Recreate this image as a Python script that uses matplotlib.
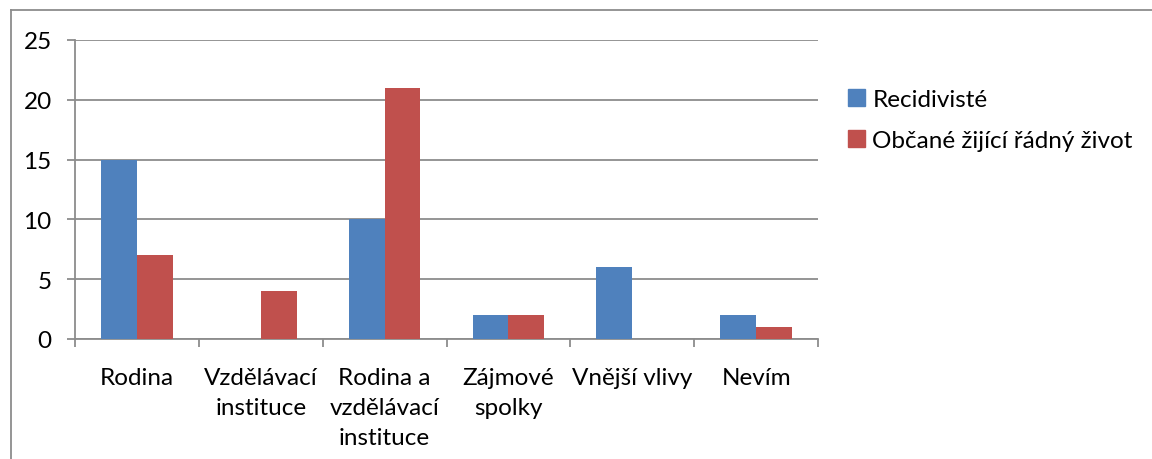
import numpy as np
import matplotlib
matplotlib.use("Agg")
import matplotlib.pyplot as plt
import matplotlib.patches as mpatches
from matplotlib.lines import Line2D

plt.rcParams["font.family"] = ["Lato", "DejaVu Sans"]

categories = ["Rodina", "Vzdělávací\ninstituce", "Rodina a\nvzdělávací\ninstituce",
              "Zájmové\nspolky", "Vnější vlivy", "Nevím"]
recidiviste = [15, 0, 10, 2, 6, 2]
obcane = [7, 4, 21, 2, 0, 1]
series_names = ["Recidivisté", "Občané žijící řádný život"]
yticks = [0, 5, 10, 15, 20, 25]

BLUE = "#4F81BD"
RED = "#C0504D"
GRID = "#8C8C8C"
FS = 17.5
W, H = 1152, 460

fig = plt.figure(figsize=(W / 100, H / 100), dpi=100)
ax = fig.add_axes([75 / W, 1 - 340 / H, (818 - 75) / W, (340 - 41) / H])

x = np.arange(len(categories))
bw = 0.29
ax.bar(x - bw / 2, recidiviste, bw, color=BLUE, zorder=3)
ax.bar(x + bw / 2, obcane, bw, color=RED, zorder=3)

ax.set_xlim(-0.5, len(categories) - 0.5)
ax.set_ylim(0, 25)
ax.set_yticks(yticks)
ax.yaxis.grid(True, color=GRID, linewidth=1.3, zorder=0)
ax.set_axisbelow(True)

ax.set_xticks(np.arange(-0.5, len(categories)))
ax.set_xticklabels([])
ax.set_xticks(x, minor=True)
ax.set_xticklabels(categories, minor=True, fontsize=FS, linespacing=1.55)
ax.tick_params(axis="x", which="major", length=5.5, width=1.3, color=GRID, direction="out")
ax.tick_params(axis="x", which="minor", length=0, pad=20)
ax.tick_params(axis="y", length=5.8, width=1.3, color=GRID, pad=11, labelsize=FS)

for s in ["top", "right"]:
    ax.spines[s].set_visible(False)
for s in ["left", "bottom"]:
    ax.spines[s].set_color(GRID)
    ax.spines[s].set_linewidth(1.3)

handles = [mpatches.Patch(color=BLUE, label=series_names[0]),
           mpatches.Patch(color=RED, label=series_names[1])]
fig.legend(handles=handles, loc="center left", bbox_to_anchor=(848 / W, 1 - 121 / H),
           frameon=False, fontsize=FS, handlelength=0.7, handleheight=0.7,
           handletextpad=0.3, labelspacing=0.8, borderpad=0, borderaxespad=0)

# chart frame (only left and top edges visible in the crop)
fig.add_artist(Line2D([10.5 / W, 10.5 / W], [0, 1 - 11 / H], color=GRID,
                      linewidth=1.3, transform=fig.transFigure))
fig.add_artist(Line2D([10.5 / W, 1], [1 - 11 / H, 1 - 11 / H], color=GRID,
                      linewidth=1.3, transform=fig.transFigure))

fig.savefig("out.png", dpi=100)
